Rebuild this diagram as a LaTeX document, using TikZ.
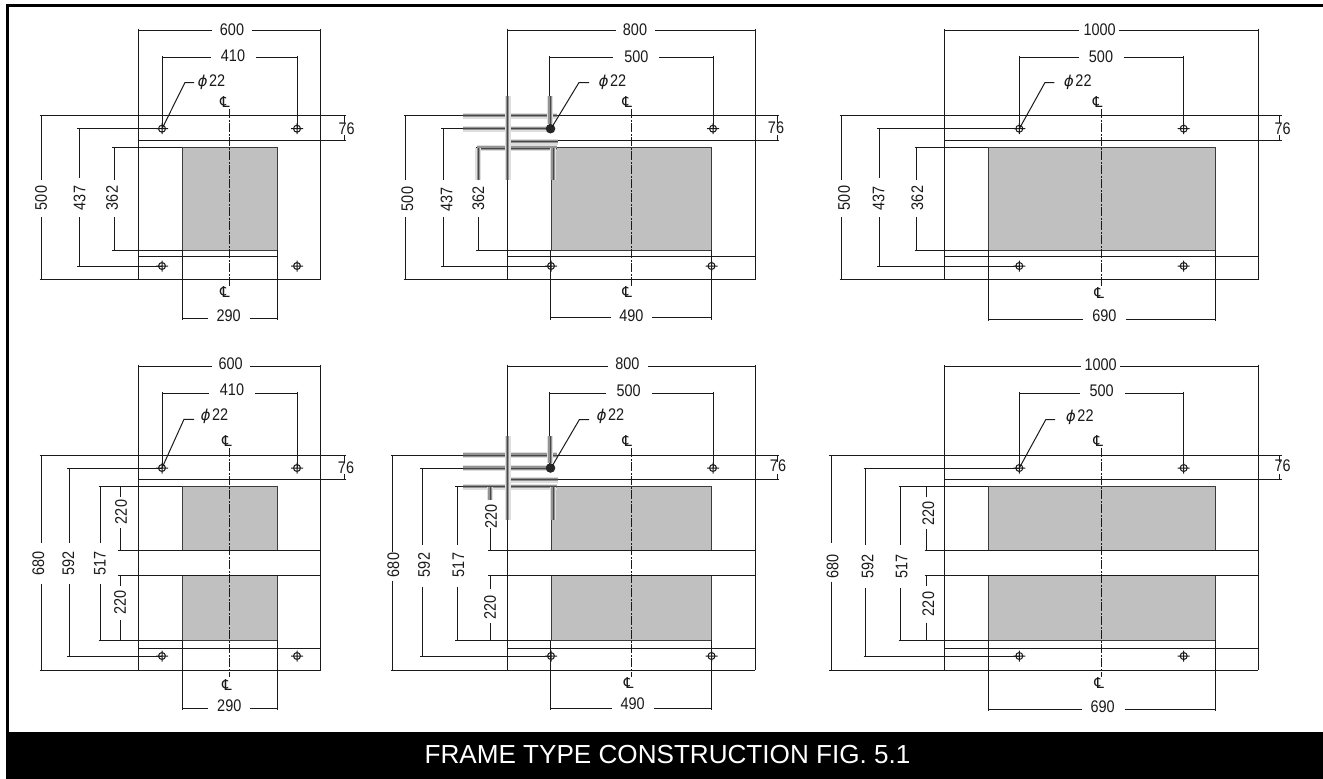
\documentclass[tikz,border=0pt]{standalone}
\usepackage{fontspec}
\setmainfont{Liberation Sans}
\newfontfamily\dimfont[FakeStretch=0.86]{Liberation Sans}
\newfontfamily\symfont{DejaVu Sans}
\newfontfamily\phifont[FakeSlant=0.2]{DejaVu Sans}
\newcount\lblno
\definecolor{ink}{HTML}{1A1A1A}
\definecolor{panelgray}{HTML}{C0C0C0}
\tikzset{
  dimline/.style={draw=ink,line width=1pt},
  outline/.style={draw=ink,line width=1pt},
  slab/.style={fill=panelgray,draw=ink!85,line width=0.9pt},
  dimtext/.style={text=ink,inner sep=0pt,font=\dimfont\fontsize{16.8}{16.8}\selectfont},
  cltext/.style={text=ink,inner sep=0pt,font=\symfont\fontsize{15}{15}\selectfont},
  axis/.style={draw=ink,line width=0.9pt,dash pattern=on 9pt off 1.5pt on 2pt off 1.5pt},
  holecircle/.style={draw=ink,line width=1pt},
  halo/.style={draw=black!13,line width=6pt},
  halomid/.style={draw=black!42,line width=3.2pt},
  halocore/.style={draw=black!72,line width=1pt},
}
\newcommand{\Lab}[3]{\global\advance\lblno by 1\node[dimtext] (lab\the\lblno) at (#1,#2) {#3};}
\newcommand{\VLab}[3]{\global\advance\lblno by 1\node[dimtext,rotate=90] (lab\the\lblno) at (#1,#2) {#3};}
\newcommand{\CLab}[2]{\global\advance\lblno by 1\node[cltext] (lab\the\lblno) at (#1,#2) {℄};}
\newcommand{\PhiLab}[2]{\global\advance\lblno by 1\node[dimtext] (lab\the\lblno) at (#1,#2) {{\phifont\fontsize{15}{15}\selectfont ϕ}\kern2.5pt 22};}
% y x1 x2 gap1 gap2
\newcommand{\HDim}[5]{\draw[dimline] (#2,#1-2)--(#2,#1+2) (#3,#1-2)--(#3,#1+2) (#2,#1)--(#4,#1) (#5,#1)--(#3,#1);}
% x y1 y2 gap1 gap2
\newcommand{\VDim}[5]{\draw[dimline] (#1-2,#2)--(#1+2,#2) (#1-2,#3)--(#1+2,#3) (#1,#2)--(#1,#4) (#1,#5)--(#1,#3);}
\newcommand{\Hole}[2]{\draw[holecircle] (#1,#2) circle[radius=3.5] (#1-6,#2)--(#1+6,#2) (#1,#2-5.5)--(#1,#2+5.5);}
\newcommand{\Blur}[4]{\draw[halo] (#1,#2)--(#3,#4);\draw[halomid] (#1,#2)--(#3,#4);\draw[halocore] (#1,#2)--(#3,#4);}
\begin{document}
\begin{tikzpicture}[x=1pt,y=-1pt]
\useasboundingbox (0,0) rectangle (1323,779);
\fill[white] (0,0) rectangle (1323,779);
% outer border and title band
\draw[black,line width=2.6pt] (7.2,779)--(7.2,5.4)--(1323,5.4);
\fill[black] (6,731.7) rectangle (1323,779);
\node[text=white,inner sep=0pt,font=\fontsize{26.1}{26.1}\selectfont] (title) at (667.5,755) {FRAME TYPE CONSTRUCTION FIG. 5.1};

% ---------- top left ----------
\fill[slab] (182,147) rectangle (277.3,250);
\draw[slab,fill=none] (182,147) rectangle (277.3,250);
\draw[outline] (138.5,30.5)--(138.5,279.7) (320.7,30.5)--(320.7,279.7);
\draw[outline] (41.7,115.5)--(344,115.5) (138.5,140.5)--(344,140.5) (138.5,256.7)--(277.3,256.7) (41.7,279.7)--(320.7,279.7);
\draw[outline] (114.3,147)--(182,147) (114.3,250)--(182,250) (79,128.7)--(162,128.7) (79,266)--(162,266);
\draw[outline] (162,57.5)--(162,128.7) (297,57.5)--(297,128.7) (182,250)--(182,318) (277.3,250)--(277.3,318);
\draw[outline] (162,128.7)--(185,82.5)--(194,82.5);
\draw[axis] (229.5,109)--(229.5,286);
\HDim{30.5}{138.5}{320.7}{212}{252}\Lab{232}{29.7}{600}
\HDim{57.5}{162}{297}{210.7}{256}\Lab{233}{55.7}{410}
\HDim{318}{182}{277.3}{208}{250}\Lab{228.7}{315.7}{290}
\VDim{344}{115.5}{140.5}{123}{135}\Lab{346.7}{128.7}{76}
\VDim{41.7}{115.5}{279.7}{180}{217}\VLab{41}{198}{500}
\VDim{79}{128.7}{266}{178}{217}\VLab{79.5}{198}{437}
\VDim{114.3}{147}{250}{180}{217}\VLab{112}{198}{362}
\Hole{162}{128.7}\Hole{297}{128.7}\Hole{162}{266}\Hole{297}{266}
\PhiLab{211}{81.7}
\CLab{225}{101.7}\CLab{225}{291.7}

% ---------- top middle ----------
\fill[slab] (551.3,147) rectangle (711.7,250);
\draw[slab,fill=none] (551.3,147) rectangle (711.7,250);
\draw[outline] (507.3,30.5)--(507.3,279.7) (755,30.5)--(755,279.7);
\draw[outline] (405.7,115.5)--(777.3,115.5) (507.3,140.5)--(777.3,140.5) (507.3,256.5)--(755,256.5) (405.7,279.7)--(755,279.7);
\draw[outline] (478.3,147)--(551.3,147) (478.3,250)--(551.3,250) (443.3,128.7)--(550.5,128.7) (443.3,266)--(551,266);
\draw[outline] (549,57.5)--(549,128.7) (713,57.5)--(713,128.7) (550.3,250)--(550.3,317.7) (711.7,250)--(711.7,317.7);
\draw[axis] (631,109)--(631,286);
\HDim{30.5}{507.3}{755}{616}{655}\Lab{635}{29.7}{800}
\HDim{57.5}{549}{713}{612.7}{659}\Lab{636.3}{57}{500}
\HDim{317.7}{550.3}{711.7}{611}{652}\Lab{631.3}{315.3}{490}
\VDim{777.3}{115.5}{140.5}{123}{135}\Lab{776}{127.3}{76}
\VDim{405.7}{115.5}{279.7}{180}{217}\VLab{407.3}{199}{500}
\VDim{443.3}{128.7}{266}{180}{217}\VLab{446.7}{199.3}{437}
\VDim{478.3}{147}{250}{180}{217}\VLab{478.3}{198.7}{362}
\Hole{713}{128.7}\Hole{551}{266}\Hole{711.5}{266}
\CLab{627.3}{101.7}\CLab{627.3}{292}
\PhiLab{612}{81.7}
\Blur{463}{115.5}{557}{115.5}
\Blur{463}{128.7}{551}{128.7}
\Blur{508}{141.5}{558}{141.5}
\Blur{477}{148}{557}{148}
\Blur{507.5}{96}{507.5}{180}
\Blur{550}{96}{550}{124}
\Blur{553}{148}{553}{180}
\Blur{478.3}{148}{478.3}{180}
\fill[black!85] (550.5,128.7) circle[radius=4.8];
\draw[white,line width=1.6pt] (553.5,125)--(557,118);
\draw[outline] (552,127)--(579,82.5)--(589,82.5);

% ---------- top right ----------
\fill[slab] (988.3,147) rectangle (1215,250);
\draw[slab,fill=none] (988.3,147) rectangle (1215,250);
\draw[outline] (944.7,30.5)--(944.7,279.7) (1258.3,30.5)--(1258.3,279.7);
\draw[outline] (841.7,115.5)--(1280,115.5) (944.7,140.5)--(1280,140.5) (944.7,256.5)--(1258.3,256.5) (841.7,279.7)--(1258.3,279.7);
\draw[outline] (916.7,147)--(988.3,147) (916.7,250)--(988.3,250) (879,128.7)--(1019.3,128.7) (879,266)--(1019.3,266);
\draw[outline] (1019.3,57.5)--(1019.3,128.7) (1183.7,57.5)--(1183.7,128.7) (988.3,250)--(988.3,319) (1215,250)--(1215,319);
\draw[outline] (1019.3,128.7)--(1045,82.5)--(1054.3,82.5);
\draw[axis] (1101.7,109)--(1101.7,286);
\HDim{30.5}{944.7}{1258.3}{1079.3}{1119.3}\Lab{1099.7}{29.7}{1000}
\HDim{57.5}{1019.3}{1183.7}{1079}{1124}\Lab{1101}{57}{500}
\HDim{319}{988.3}{1215}{1083.3}{1126}\Lab{1104.3}{316}{690}
\VDim{1279.7}{115.5}{140.5}{123}{135}\Lab{1282.7}{128.7}{76}
\VDim{841.7}{115.5}{279.7}{180}{217}\VLab{844}{198}{500}
\VDim{879}{128.7}{266}{178}{217}\VLab{878.7}{198.3}{437}
\VDim{916.7}{147}{250}{180}{217}\VLab{917.3}{198}{362}
\Hole{1019.3}{128.7}\Hole{1183.7}{128.7}\Hole{1019.3}{266}\Hole{1183.7}{266}
\PhiLab{1077.3}{81.7}
\CLab{1097.7}{101.7}\CLab{1099.3}{292.7}

% ---------- bottom left ----------
\fill[slab] (182,486.3) rectangle (277.3,550.7);
\fill[slab] (182,575) rectangle (277.3,640.3);
\draw[slab,fill=none] (182,486.3) rectangle (277.3,550.7) (182,575) rectangle (277.3,640.3);
\draw[outline] (138.5,366.7)--(138.5,670) (320.7,366.7)--(320.7,670);
\draw[outline] (41.7,455)--(344,455) (138.5,479.3)--(344,479.3) (120.3,550.7)--(320.7,550.7) (120.3,575)--(320.7,575) (138.5,648.3)--(320.7,648.3) (41.7,670)--(320.7,670);
\draw[outline] (100.7,486.3)--(182,486.3) (100.7,640.3)--(182,640.3) (69,468)--(162,468) (69,656)--(162,656);
\draw[outline] (162,393.7)--(162,468) (297,393.7)--(297,468) (182,640.3)--(182,708.3) (277.3,640.3)--(277.3,708.3);
\draw[outline] (162,468)--(184,419.3)--(194,419.3);
\draw[axis] (229.5,448.3)--(229.5,676.7);
\HDim{366.7}{138.5}{320.7}{211.7}{250}\Lab{230.7}{363.7}{600}
\HDim{393.7}{162}{297}{209.3}{255}\Lab{232}{389.7}{410}
\HDim{708.3}{182}{277.3}{208.3}{250}\Lab{229.3}{705.7}{290}
\VDim{344}{455}{479.3}{462}{474}\Lab{346}{467.7}{76}
\VDim{41.7}{455}{670}{542.7}{584.3}\VLab{38.3}{563.3}{680}
\VDim{69}{468}{656}{542.7}{584.3}\VLab{68.3}{563.3}{592}
\VDim{100.7}{486.3}{640.3}{542.7}{584.3}\VLab{100}{563.3}{517}
\VDim{120.3}{486.3}{550.7}{496.7}{528.3}\VLab{121}{512}{220}
\VDim{120.3}{575}{640.3}{586}{620}\VLab{120}{602.3}{220}
\Hole{162}{468}\Hole{297}{468}\Hole{162}{656}\Hole{297}{656}
\PhiLab{214}{415.7}
\CLab{227}{440.7}\CLab{227}{685}

% ---------- bottom middle ----------
\fill[slab] (551.3,486.3) rectangle (711.7,550.7);
\fill[slab] (551.3,575) rectangle (711.7,640.3);
\draw[slab,fill=none] (551.3,486.3) rectangle (711.7,550.7) (551.3,575) rectangle (711.7,640.3);
\draw[outline] (507.3,366.7)--(507.3,670) (755,366.7)--(755,670);
\draw[outline] (392.7,455)--(777.3,455) (507.3,479.3)--(777.3,479.3) (490,550.7)--(755,550.7) (490,575)--(755,575) (507.3,648.3)--(755,648.3) (392.7,670)--(755,670);
\draw[outline] (457.3,486.3)--(551.3,486.3) (457.3,640.3)--(551.3,640.3) (422.3,468)--(550.5,468) (422.3,656)--(551,656);
\draw[outline] (549,393.7)--(549,468) (713,393.7)--(713,468) (550.3,640.3)--(550.3,708) (711.7,640.3)--(711.7,708);
\draw[axis] (631,448.3)--(631,676.7);
\HDim{366.7}{507.3}{755}{608.3}{648.3}\Lab{627.3}{363.7}{800}
\HDim{393.7}{549}{713}{606}{651.7}\Lab{628.7}{390.7}{500}
\HDim{708}{550.3}{711.7}{611.7}{654}\Lab{632.7}{703.7}{490}
\VDim{777.3}{455}{479.3}{462}{474}\Lab{778}{465.3}{76}
\VDim{392.7}{455}{670}{551.7}{580.7}\VLab{393.3}{565}{680}
\VDim{422.3}{468}{656}{545}{586.7}\VLab{424}{565}{592}
\VDim{457.3}{486.3}{640.3}{545}{586.7}\VLab{458.3}{565}{517}
\VDim{490}{486.3}{550.7}{500}{528.3}\VLab{491}{516.7}{220}
\VDim{490}{575}{640.3}{589.3}{623.3}\VLab{490}{607.3}{220}
\Hole{713}{468}\Hole{551}{656}\Hole{711.5}{656}
\PhiLab{610}{415.7}
\CLab{627.3}{440.7}\CLab{628.7}{683.3}
\Blur{463}{455}{557}{455}
\Blur{463}{468}{551}{468}
\Blur{508}{479.5}{558}{479.5}
\Blur{463}{486.5}{557}{486.5}
\Blur{507.5}{436}{507.5}{520}
\Blur{550}{436}{550}{463}
\Blur{553}{487}{553}{520}
\Blur{490}{487}{490}{500}
\fill[black!85] (550.5,468) circle[radius=4.8];
\draw[white,line width=1.6pt] (553.5,464.3)--(557,457.3);
\draw[outline] (552,466.3)--(579.3,419.7)--(589,419.7);

% ---------- bottom right ----------
\fill[slab] (988.3,486.3) rectangle (1215,550);
\fill[slab] (988.3,575) rectangle (1215,640.3);
\draw[slab,fill=none] (988.3,486.3) rectangle (1215,550) (988.3,575) rectangle (1215,640.3);
\draw[outline] (944.7,366.7)--(944.7,670) (1258.3,366.7)--(1258.3,670);
\draw[outline] (831,455)--(1280,455) (944.7,479.3)--(1280,479.3) (926.7,550)--(1258.3,550) (926.7,575)--(1258.3,575) (944.7,648.3)--(1258.3,648.3) (831,670)--(1258.3,670);
\draw[outline] (900.7,486.3)--(988.3,486.3) (900.7,640.3)--(988.3,640.3) (865.7,468)--(1019.3,468) (865.7,656)--(1019.3,656);
\draw[outline] (1019.3,393.7)--(1019.3,468) (1183.7,393.7)--(1183.7,468) (988.3,640.3)--(988.3,709.3) (1215,640.3)--(1215,709.3);
\draw[outline] (1019.3,468)--(1045.7,419.7)--(1055,419.7);
\draw[axis] (1101.7,448.3)--(1101.7,676.7);
\HDim{366.7}{944.7}{1258.3}{1080.7}{1120}\Lab{1100.7}{365}{1000}
\HDim{393.7}{1019.3}{1183.7}{1080}{1125}\Lab{1101.7}{390.7}{500}
\HDim{709.3}{988.3}{1215}{1081.7}{1125}\Lab{1102.7}{706.7}{690}
\VDim{1279.7}{455}{479.3}{462}{474}\Lab{1282.7}{465.3}{76}
\VDim{831}{455}{670}{542.7}{581.7}\VLab{832.7}{566.7}{680}
\VDim{865.7}{468}{656}{545}{588.3}\VLab{867.7}{566.7}{592}
\VDim{900.7}{486.3}{640.3}{545}{588}\VLab{901.7}{566.7}{517}
\VDim{926.7}{486.3}{550}{496.7}{529.3}\VLab{928.3}{513.3}{220}
\VDim{926.7}{575}{640.3}{586}{622.7}\VLab{928.3}{604}{220}
\Hole{1019.3}{468}\Hole{1183.7}{468}\Hole{1019.3}{656}\Hole{1183.7}{656}
\PhiLab{1079.3}{416.7}
\CLab{1098.3}{440.7}\CLab{1099.3}{682.7}
\end{tikzpicture}
\end{document}
